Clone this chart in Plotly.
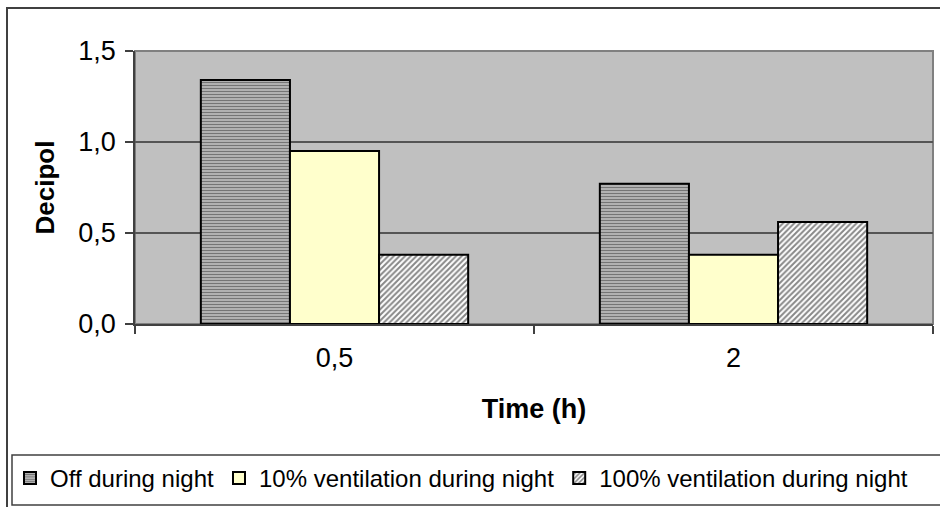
import plotly.graph_objects as go

# Perceived air quality after start-up, by night-time ventilation strategy
times = ["0,5", "2"]
off_night = [1.34, 0.77]
vent_10 = [0.95, 0.38]
vent_100 = [0.38, 0.56]

series_names = [
    "Off during night",
    "10% ventilation during night",
    "100% ventilation during night",
]
y_ticks = [0.0, 0.5, 1.0, 1.5]
y_tick_text = ["0,0", "0,5", "1,0", "1,5"]

W, H = 940, 507
L, R, T, B = 135, 933, 51, 324


def px_x(px):
    return (px - L) / (R - L)


def px_y(py):
    return (B - py) / (B - T)


FONT = "Liberation Sans, Arial, sans-serif"

fig = go.Figure()
fig.add_trace(go.Bar(
    x=times, y=off_night, name=series_names[0],
    marker=dict(
        color="#d8d8d8",
        line=dict(color="#000000", width=2),
        pattern=dict(shape="-", fgcolor="#111111", bgcolor="#d8d8d8",
                     size=3, solidity=0.6),
    ),
))
fig.add_trace(go.Bar(
    x=times, y=vent_10, name=series_names[1],
    marker=dict(color="#FFFFCC", line=dict(color="#000000", width=2)),
))
fig.add_trace(go.Bar(
    x=times, y=vent_100, name=series_names[2],
    marker=dict(
        color="#ffffff",
        line=dict(color="#000000", width=2),
        pattern=dict(shape="/", fgcolor="#111111", bgcolor="#ffffff",
                     size=4, solidity=0.5),
    ),
))

shapes = [
    # outer chart frame
    dict(type="rect", xref="paper", yref="paper",
         x0=px_x(7), x1=px_x(950), y0=px_y(520), y1=px_y(8),
         line=dict(color="#404040", width=2), layer="below"),
    # plot-area frame (top/right in gray)
    dict(type="rect", xref="paper", yref="paper",
         x0=0, x1=1, y0=0, y1=1,
         line=dict(color="#808080", width=2), layer="below"),
    # legend frame
    dict(type="rect", xref="paper", yref="paper",
         x0=px_x(12), x1=px_x(950), y0=px_y(505), y1=px_y(455),
         line=dict(color="#404040", width=1.5)),
]

fig.update_layout(
    width=W, height=H,
    margin=dict(l=L, r=W - R, t=T, b=H - B, autoexpand=False),
    paper_bgcolor="#ffffff",
    plot_bgcolor="#C0C0C0",
    barmode="group",
    bargap=0.33,
    bargroupgap=0,
    font=dict(family=FONT, size=24, color="#000000"),
    showlegend=True,
    legend=dict(
        orientation="h",
        x=px_x(10), y=px_y(456), xanchor="left", yanchor="top",
        font=dict(family=FONT, size=24),
        bgcolor="rgba(0,0,0,0)",
        borderwidth=0,
        itemwidth=30,
        traceorder="normal",
    ),
    shapes=shapes,
)

fig.update_xaxes(
    type="category",
    tickson="boundaries",
    ticks="outside", ticklen=8, tickcolor="#404040", tickwidth=1.5,
    showline=True, linecolor="#404040", linewidth=1.5,
    showgrid=False,
    tickfont=dict(family=FONT, size=27),
    ticklabelstandoff=9,
    title=dict(text="<b>Time (h)</b>", font=dict(family=FONT, size=27),
               standoff=27),
)
fig.update_yaxes(
    range=[0, 1.5],
    tickvals=y_ticks, ticktext=y_tick_text,
    ticks="outside", ticklen=8, tickcolor="#404040", tickwidth=1.5,
    showline=True, linecolor="#404040", linewidth=1.5,
    showgrid=True, gridcolor="#555555", gridwidth=1.5,
    zeroline=False,
    tickfont=dict(family=FONT, size=27),
    ticklabelstandoff=4,
    title=dict(text="<b>Decipol</b>", font=dict(family=FONT, size=26),
               standoff=16),
)

fig.write_html("out.html")
